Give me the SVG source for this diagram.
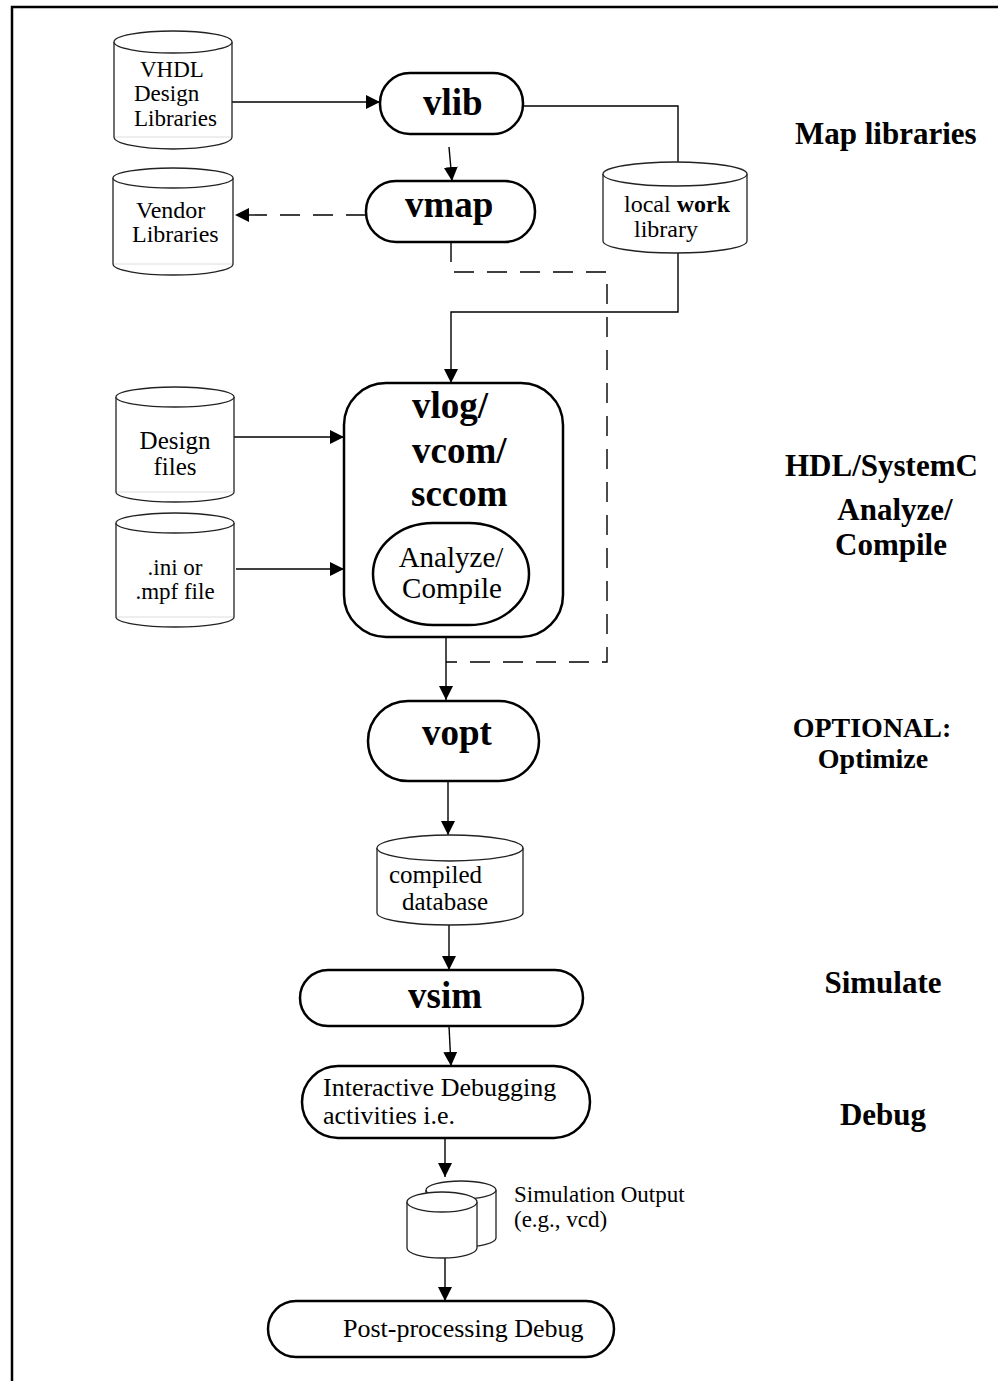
<svg xmlns="http://www.w3.org/2000/svg" width="998" height="1381" viewBox="0 0 998 1381">
<style>
  .frame{stroke:#000;stroke-width:2.5;fill:none}
  .pill{fill:#fff;stroke:#000;stroke-width:2.5}
  .cyl{fill:#fff;stroke:#222;stroke-width:1.3}
  .cylbase{stroke:#ddd;stroke-width:1;fill:none}
  .conn{fill:none;stroke:#000;stroke-width:1.4}
  .dash{fill:none;stroke:#000;stroke-width:1.4;stroke-dasharray:20 13}
  .t{font-family:"Liberation Serif","Times New Roman",serif;fill:#000}
  .r23{font-size:23px}
  .r24{font-size:24px}
  .r25{font-size:25px}
  .r26{font-size:26px}
  .r29{font-size:29px}
  .b37{font-size:37px;font-weight:bold}
  .lab{font-size:31px;font-weight:bold}
  .lab2{font-size:28px;font-weight:bold}
</style>
<defs>
  <marker id="ah" markerUnits="userSpaceOnUse" markerWidth="14" markerHeight="14" viewBox="0 0 14 14" refX="14" refY="7" orient="auto">
    <path d="M0,0 L14,7 L0,14 Z" fill="#000"/>
  </marker>
</defs>
<rect width="998" height="1381" fill="#fff"/>
<g id="frame">
  <path class="frame" d="M12,1381 L12,7 L998,7"/>
</g>
<g id="connectors">
  <line class="conn" x1="232" y1="102" x2="380" y2="102" marker-end="url(#ah)"/>
  <line class="conn" x1="449" y1="147" x2="452" y2="181" marker-end="url(#ah)"/>
  <polyline class="conn" points="523,106 678,106 678,162"/>
  <polyline class="conn" points="678,253 678,312 451,312 451,383" marker-end="url(#ah)"/>
  <line class="dash" x1="366" y1="215" x2="235" y2="215" marker-end="url(#ah)"/>
  <polyline class="dash" points="451,242 451,272 607,272 607,662 446,662"/>
  <line class="conn" x1="234" y1="437" x2="344" y2="437" marker-end="url(#ah)"/>
  <line class="conn" x1="236" y1="569" x2="344" y2="569" marker-end="url(#ah)"/>
  <line class="conn" x1="446" y1="637" x2="446" y2="700" marker-end="url(#ah)"/>
  <line class="conn" x1="448" y1="781" x2="448" y2="835" marker-end="url(#ah)"/>
  <line class="conn" x1="449" y1="925" x2="449" y2="970" marker-end="url(#ah)"/>
  <line class="conn" x1="449" y1="1026" x2="451" y2="1066" marker-end="url(#ah)"/>
  <line class="conn" x1="445" y1="1138" x2="445" y2="1177" marker-end="url(#ah)"/>
  <line class="conn" x1="445" y1="1258" x2="445" y2="1301" marker-end="url(#ah)"/>
</g>
<g id="vhdl-libs">
  <path class="cyl" d="M114,42 L114,137 A59,12 0 0 0 232,137 L232,42"/>
  <line class="cylbase" x1="115" y1="137" x2="231" y2="137"/>
  <ellipse class="cyl" cx="173" cy="42" rx="59" ry="11"/>
  <text class="t r23" x="140" y="77">VHDL</text>
  <text class="t r23" x="134" y="101">Design</text>
  <text class="t r23" x="134" y="126">Libraries</text>
</g>
<g id="vlib">
  <rect class="pill" x="380" y="73" width="143" height="61" rx="30" ry="30"/>
  <text class="t b37" x="423" y="115">vlib</text>
</g>
<g id="vmap">
  <rect class="pill" x="366" y="181" width="169" height="61" rx="30" ry="30"/>
  <text class="t b37" x="405" y="217">vmap</text>
</g>
<g id="vendor-libs">
  <path class="cyl" d="M113,178 L113,264 A60,11 0 0 0 233,264 L233,178"/>
  <line class="cylbase" x1="114" y1="264" x2="232" y2="264"/>
  <ellipse class="cyl" cx="173" cy="178" rx="60" ry="10"/>
  <text class="t r24" x="136" y="218">Vendor</text>
  <text class="t r24" x="132" y="242">Libraries</text>
</g>
<g id="local-work">
  <path class="cyl" d="M603,174 L603,241 A72,12 0 0 0 747,241 L747,174"/>
  <ellipse class="cyl" cx="675" cy="174" rx="72" ry="12"/>
  <text class="t r24" x="624" y="212">local <tspan font-weight="bold">work</tspan></text>
  <text class="t r24" x="634" y="237">library</text>
</g>
<g id="design-files">
  <path class="cyl" d="M116,397 L116,492 A59,10 0 0 0 234,492 L234,397"/>
  <line class="cylbase" x1="117" y1="492" x2="233" y2="492"/>
  <ellipse class="cyl" cx="175" cy="397" rx="59" ry="10"/>
  <text class="t r25" x="175" y="449" text-anchor="middle">Design</text>
  <text class="t r25" x="175" y="475" text-anchor="middle">files</text>
</g>
<g id="ini-file">
  <path class="cyl" d="M116,523 L116,617 A59,10 0 0 0 234,617 L234,523"/>
  <line class="cylbase" x1="117" y1="617" x2="233" y2="617"/>
  <ellipse class="cyl" cx="175" cy="523" rx="59" ry="10"/>
  <text class="t r23" x="175" y="575" text-anchor="middle">.ini or</text>
  <text class="t r23" x="175" y="599" text-anchor="middle">.mpf file</text>
</g>
<g id="vlog">
  <rect class="pill" x="344" y="383" width="219" height="254" rx="42" ry="42"/>
  <text class="t b37" x="412" y="418">vlog/</text>
  <text class="t b37" x="412" y="463">vcom/</text>
  <text class="t b37" x="411" y="506">sccom</text>
  <rect class="pill" x="373" y="523" width="156" height="102" rx="60" ry="51"/>
  <text class="t r29" x="451" y="567" text-anchor="middle">Analyze/</text>
  <text class="t r29" x="452" y="598" text-anchor="middle">Compile</text>
</g>
<g id="vopt">
  <rect class="pill" x="368" y="701" width="171" height="80" rx="40" ry="40"/>
  <text class="t b37" x="422" y="745">vopt</text>
</g>
<g id="compiled-db">
  <path class="cyl" d="M377,848 L377,913 A73,12 0 0 0 523,913 L523,848"/>
  <ellipse class="cyl" cx="450" cy="848" rx="73" ry="13"/>
  <text class="t r25" x="389" y="883">compiled</text>
  <text class="t r25" x="402" y="910">database</text>
</g>
<g id="vsim">
  <rect class="pill" x="300" y="970" width="283" height="56" rx="28" ry="28"/>
  <text class="t b37" x="408" y="1008">vsim</text>
</g>
<g id="interactive">
  <rect class="pill" x="302" y="1066" width="288" height="72" rx="36" ry="36"/>
  <text class="t r26" x="323" y="1096">Interactive Debugging</text>
  <text class="t r26" x="323" y="1124">activities i.e.</text>
</g>
<g id="sim-output">
  <path class="cyl" d="M426,1190 L426,1238 A35,9 0 0 0 496,1238 L496,1190"/>
  <ellipse class="cyl" cx="461" cy="1190" rx="35" ry="9"/>
  <path class="cyl" d="M407,1202 L407,1248 A35,10 0 0 0 477,1248 L477,1202"/>
  <ellipse class="cyl" cx="442" cy="1202" rx="35" ry="10"/>
  <text class="t r23" x="514" y="1202">Simulation Output</text>
  <text class="t r23" x="514" y="1227">(e.g., vcd)</text>
</g>
<g id="post">
  <rect class="pill" x="268" y="1301" width="346" height="56" rx="28" ry="28"/>
  <text class="t r26" x="343" y="1337">Post-processing Debug</text>
</g>
<g id="stage-labels">
  <text class="t lab" x="795" y="144">Map libraries</text>
  <text class="t lab" x="785" y="476">HDL/SystemC</text>
  <text class="t lab" x="895" y="520" text-anchor="middle">Analyze/</text>
  <text class="t lab" x="891" y="555" text-anchor="middle">Compile</text>
  <text class="t lab2" x="872" y="737" text-anchor="middle">OPTIONAL:</text>
  <text class="t lab2" x="873" y="768" text-anchor="middle">Optimize</text>
  <text class="t lab" x="883" y="993" text-anchor="middle">Simulate</text>
  <text class="t lab" x="883" y="1125" text-anchor="middle">Debug</text>
</g>
</svg>
